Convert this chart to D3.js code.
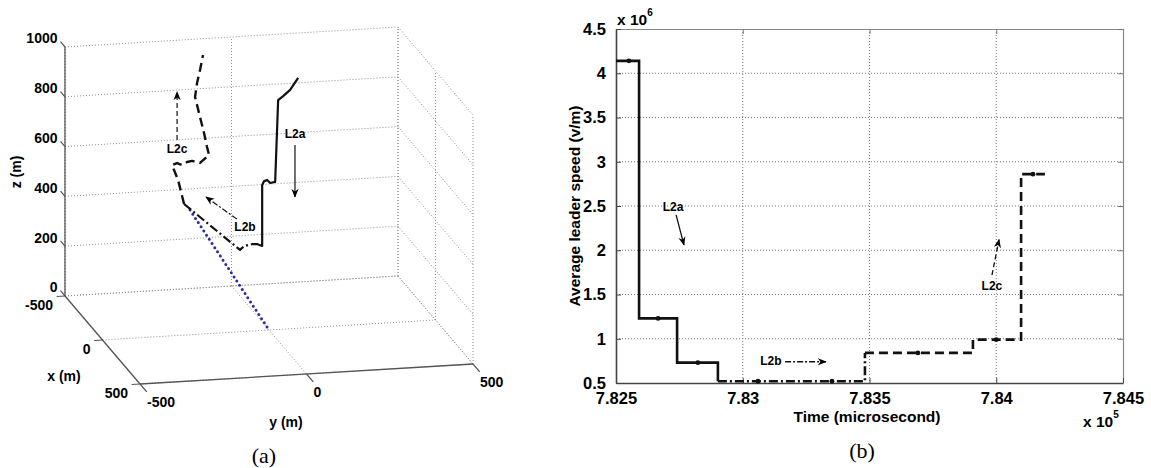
<!DOCTYPE html>
<html>
<head>
<meta charset="utf-8">
<script src="https://cdn.jsdelivr.net/npm/d3@7"></script>
<style>
  body { margin: 0; background: #fff; }
  svg { display: block; }
  text { font-family: "Liberation Sans", Arial, sans-serif; fill: #000; }
  .bold { font-weight: bold; }
  .serif { font-family: "Liberation Serif", "Times New Roman", serif; }
</style>
</head>
<body>
<div id="wrapper"></div>
<script>
// ---------- PANEL (a) DATA : 3D leader paths (m) ----------
const xLim3 = [-500, 500]
const yLim3 = [-500, 500]
const zLim3 = [0, 1000]
const xTicks3 = [-500, 0, 500]
const yTicks3 = [-500, 0, 500]
const zTicks3 = [0, 200, 400, 600, 800, 1000]

// L2a (solid)
const l2aX = [-100, -100, -100, -100, -100, -100, -100, -100, -100, -100, -100, -100]
const l2aY = [-29, -14, 2, 2, 8, 17, 26, 41, 50, 65, 86, 110]
const l2aZ = [312, 311, 302, 547, 562, 566, 553, 556, 884, 899, 922, 968]

// L2b (dash-dot)
const l2bX = [-400, -120, -110, -100]
const l2bY = [-165, -60, -50, -29]
const l2bZ = [378, 284, 302, 312]

// L2c (dashed)
const l2cX = [-400, -400, -400, -400, -400, -400, -400, -400, -400, -400, -400, -400, -400, -400, -400, -400, -400]
const l2cY = [-165, -183, -201, -186, -171, -156, -141, -126, -117, -90, -96, -105, -117, -132, -126, -117, -108]
const l2cZ = [378, 476, 537, 544, 535, 546, 549, 543, 539, 569, 601, 658, 723, 805, 861, 912, 972]

// blue dotted channel
const blueX = [-400, 0]
const blueY = [-147, 0]
const blueZ = [352, 0]

// annotations in the x = 0 plane: [y, z]
const annotNames = ["L2a", "L2b", "L2c"]
const annot3Text = [[78, 777], [-72, 415], [-276, 745]]
const annot3From = [[78, 737], [-96, 453], [-276, 785]]
const annot3To = [[78, 528], [-189, 549], [-276, 978]]

// ---------- PANEL (b) DATA : average leader speed ----------
const timeDomain = [7.825, 7.845]          // x 10^5 microsecond
const speedDomain = [0.5, 4.5]             // x 10^6
const timeTicks = [7.825, 7.83, 7.835, 7.84, 7.845]
const timeTickLabels = ["7.825", "7.83", "7.835", "7.84", "7.845"]
const speedTicks = [0.5, 1, 1.5, 2, 2.5, 3, 3.5, 4, 4.5]
const speedTickLabels = ["0.5", "1", "1.5", "2", "2.5", "3", "3.5", "4", "4.5"]

const stepTimesA = [7.825, 7.82591, 7.82741, 7.82902]
const stepSpeedsA = [4.14, 1.23, 0.73, 0.52]
const stepTimesB = [7.82902, 7.83482]
const stepSpeedsB = [0.52, 0.84]
const stepTimesC = [7.83482, 7.83908, 7.84098, 7.84192]
const stepSpeedsC = [0.84, 0.99, 2.86, 2.86]

const markerTimes = [7.82551, 7.82666, 7.82823, 7.8306, 7.83352, 7.83691, 7.84, 7.84145]
const markerSpeeds = [4.14, 1.23, 0.73, 0.52, 0.52, 0.84, 0.99, 2.86]

// annotations [time, speed]
const annot2Text = [[7.82725, 2.48], [7.83111, 0.74], [7.83983, 1.585]]
const annot2From = [[7.82737, 2.40], [7.83167, 0.74], [7.83983, 1.72]]
const annot2To = [[7.82768, 2.06], [7.83328, 0.74], [7.84011, 2.12]]

// ---------- SVG ----------
const width = 1151, height = 468
const svg = d3.select('#wrapper').append('svg')
    .attr('width', width)
    .attr('height', height)

const defs = svg.append('defs')
defs.append('marker')
    .attr('id', 'head')
    .attr('viewBox', '0 0 10 10')
    .attr('refX', 9).attr('refY', 5)
    .attr('markerWidth', 9).attr('markerHeight', 9)
    .attr('markerUnits', 'userSpaceOnUse')
    .attr('orient', 'auto')
  .append('path')
    .attr('d', 'M0,1 L10,5 L0,9 L3,5 Z')
    .attr('fill', '#000')

const styles = {
    a: { dash: null, width: 2.2 },
    b: { dash: '9,3,2,3', width: 2.2 },
    c: { dash: '9,5', width: 2.4 }
}

// ================= PANEL (a) =================
const pa = svg.append('g')

// orthographic view of the box
const dxX = d3.scaleLinear().domain(xLim3).range([-37.5, 37.5])
const dyX = d3.scaleLinear().domain(xLim3).range([-44, 44])
const dxY = d3.scaleLinear().domain(yLim3).range([-166.5, 166.5])
const dyY = d3.scaleLinear().domain(yLim3).range([10, -10])
const dyZ = d3.scaleLinear().domain(zLim3).range([0, -249])
const origin3 = [269, 330]
const project = (x, y, z) => [
    origin3[0] + dxX(x) + dxY(y),
    origin3[1] + dyX(x) + dyY(y) + dyZ(z)
]
const line3 = d3.line().x(d => project(...d)[0]).y(d => project(...d)[1])

const [x0, x1] = xLim3, [y0, y1] = yLim3, [z0, z1] = zLim3

// grid on the three back planes
const gridSegs = []
zTicks3.forEach(z => {
    gridSegs.push([[x0, y0, z], [x0, y1, z]])
    gridSegs.push([[x0, y1, z], [x1, y1, z]])
})
yTicks3.forEach(y => {
    gridSegs.push([[x0, y, z0], [x0, y, z1]])
    gridSegs.push([[x0, y, z0], [x1, y, z0]])
})
xTicks3.forEach(x => {
    gridSegs.push([[x, y1, z0], [x, y1, z1]])
    gridSegs.push([[x, y0, z0], [x, y1, z0]])
})
pa.selectAll('.grid3').data(gridSegs).join('path')
    .attr('class', 'grid3')
    .attr('d', line3)
    .attr('fill', 'none')
    .attr('stroke', '#8f8f8f')
    .attr('stroke-width', 1)
    .attr('stroke-dasharray', '1,2')

// axis lines
const axisSegs = [
    [[x0, y0, z0], [x1, y0, z0]],
    [[x1, y0, z0], [x1, y1, z0]],
    [[x0, y0, z0], [x0, y0, z1]]
]
pa.selectAll('.axis3').data(axisSegs).join('path')
    .attr('class', 'axis3')
    .attr('d', line3)
    .attr('stroke', '#555')
    .attr('stroke-width', 1.3)

// ticks and tick labels
const tickSegs = []
zTicks3.forEach(z => tickSegs.push([[x0, y0, z], [x0 - 60, y0, z]]))
xTicks3.forEach(x => tickSegs.push([[x, y0, z0], [x, y0 - 25, z0]]))
yTicks3.forEach(y => tickSegs.push([[x1, y, z0], [x1 + 90, y, z0]]))
pa.selectAll('.tick3').data(tickSegs).join('path')
    .attr('class', 'tick3')
    .attr('d', line3)
    .attr('stroke', '#555')
    .attr('stroke-width', 1.2)

const tickFont = sel => sel
    .style('font-family', '"Liberation Sans", Arial, sans-serif')
    .style('font-weight', 'bold')
    .style('font-size', '14px')

pa.selectAll('.zlab').data(zTicks3).join('text')
    .attr('class', 'zlab')
    .attr('x', d => project(x0 - 60, y0, d)[0] - 3)
    .attr('y', d => project(x0 - 60, y0, d)[1] - 2)
    .attr('text-anchor', 'end')
    .attr('dominant-baseline', 'middle')
    .call(tickFont)
    .text(d => d)

pa.selectAll('.xlab').data(xTicks3).join('text')
    .attr('class', 'xlab')
    .attr('x', d => project(d, y0, z0)[0] - 12)
    .attr('y', d => project(d, y0, z0)[1] + 10)
    .attr('text-anchor', 'end')
    .attr('dominant-baseline', 'middle')
    .call(tickFont)
    .text(d => d)

pa.selectAll('.ylab').data(yTicks3).join('text')
    .attr('class', 'ylab')
    .attr('x', d => project(x1, d, z0)[0] + 7)
    .attr('y', d => project(x1, d, z0)[1] + 19)
    .attr('text-anchor', 'start')
    .attr('dominant-baseline', 'middle')
    .call(tickFont)
    .text(d => d)

pa.append('text')
    .attr('transform', 'translate(17,172) rotate(-90)')
    .attr('text-anchor', 'middle').attr('dominant-baseline', 'middle')
    .call(tickFont).text('z (m)')
pa.append('text')
    .attr('x', 64).attr('y', 377)
    .attr('text-anchor', 'middle').attr('dominant-baseline', 'middle')
    .call(tickFont).text('x (m)')
pa.append('text')
    .attr('x', 286).attr('y', 423)
    .attr('text-anchor', 'middle').attr('dominant-baseline', 'middle')
    .call(tickFont).text('y (m)')

// leader paths
const zip3 = (xs, ys, zs) => xs.map((x, i) => [x, ys[i], zs[i]])

pa.append('path')
    .attr('d', line3(zip3(blueX, blueY, blueZ)))
    .attr('fill', 'none')
    .attr('stroke', '#2b2ba8')
    .attr('stroke-width', 3)
    .attr('stroke-linecap', 'round')
    .attr('stroke-dasharray', '0,5')

const paths3 = [
    { pts: zip3(l2aX, l2aY, l2aZ), s: styles.a },
    { pts: zip3(l2bX, l2bY, l2bZ), s: styles.b },
    { pts: zip3(l2cX, l2cY, l2cZ), s: styles.c }
]
paths3.forEach(p => {
    pa.append('path')
        .attr('d', line3(p.pts))
        .attr('fill', 'none')
        .attr('stroke', '#111')
        .attr('stroke-width', p.s.width)
        .attr('stroke-dasharray', p.s.dash)
        .attr('stroke-linejoin', 'round')
})

// annotations (a)
const annotDash = [null, '6,2,2,2', '5,3']
const annotFont = sel => sel
    .style('font-family', '"Liberation Sans", Arial, sans-serif')
    .style('font-weight', 'bold')
    .style('font-size', '12px')
annotNames.forEach((name, i) => {
    const t = project(0, ...annot3Text[i])
    pa.append('text')
        .attr('x', t[0]).attr('y', t[1])
        .attr('text-anchor', 'middle').attr('dominant-baseline', 'middle')
        .call(annotFont)
        .text(name)
    pa.append('path')
        .attr('d', line3([[0, ...annot3From[i]], [0, ...annot3To[i]]]))
        .attr('stroke', '#111')
        .attr('stroke-width', 1.2)
        .attr('stroke-dasharray', annotDash[i])
        .attr('marker-end', 'url(#head)')
})

pa.append('text').attr('class', 'serif')
    .attr('x', 264).attr('y', 458)
    .attr('text-anchor', 'middle').attr('dominant-baseline', 'middle')
    .attr('font-size', 22).text('(a)')

// ================= PANEL (b) =================
const pb = svg.append('g')
const xScale = d3.scaleLinear().domain(timeDomain).range([616, 1123])
const yScale = d3.scaleLinear().domain(speedDomain).range([383, 29])
const [bx0, bx1] = xScale.range()
const [by0, by1] = yScale.range()

// grid
pb.selectAll('.vgrid').data(timeTicks.slice(1, -1)).join('line')
    .attr('x1', d => xScale(d)).attr('x2', d => xScale(d))
    .attr('y1', by1).attr('y2', by0)
    .attr('stroke', '#7a7a7a').attr('stroke-dasharray', '1,2')
pb.selectAll('.hgrid').data(speedTicks.slice(1, -1)).join('line')
    .attr('y1', d => yScale(d)).attr('y2', d => yScale(d))
    .attr('x1', bx0).attr('x2', bx1)
    .attr('stroke', '#7a7a7a').attr('stroke-dasharray', '1,2')

// axes (ticks inward)
const xAxisB = d3.axisBottom(xScale).tickValues(timeTicks)
    .tickFormat((d, i) => timeTickLabels[i]).tickSizeInner(-5).tickSizeOuter(0).tickPadding(9)
const yAxisL = d3.axisLeft(yScale).tickValues(speedTicks)
    .tickFormat((d, i) => speedTickLabels[i]).tickSizeInner(-5).tickSizeOuter(0).tickPadding(10)
const xAxisT = d3.axisTop(xScale).tickValues(timeTicks).tickFormat('').tickSizeInner(-5).tickSizeOuter(0)
const yAxisR = d3.axisRight(yScale).tickValues(speedTicks).tickFormat('').tickSizeInner(-5).tickSizeOuter(0)

const gxT = pb.append('g').attr('transform', `translate(0,${by1})`).call(xAxisT)
const gyR = pb.append('g').attr('transform', `translate(${bx1},0)`).call(yAxisR)
const gxB = pb.append('g').attr('transform', `translate(0,${by0})`).call(xAxisB)
const gyL = pb.append('g').attr('transform', `translate(${bx0},0)`).call(yAxisL)

;[gxT, gyR].forEach(g => {
    g.select('.domain').attr('stroke', '#888').attr('stroke-width', 1.2)
    g.selectAll('.tick line').attr('stroke', '#777')
})
;[gxB, gyL].forEach(g => {
    g.select('.domain').attr('stroke', '#444').attr('stroke-width', 1.6)
    g.selectAll('.tick line').attr('stroke', '#444')
    g.selectAll('.tick text')
        .style('font-family', '"Liberation Sans", Arial, sans-serif')
        .style('font-weight', 'bold')
        .style('font-size', '16.5px')
        .style('fill', '#000')
})

// step series
const stepLine = d3.line()
    .x(d => xScale(d[0])).y(d => yScale(d[1]))
    .curve(d3.curveStepAfter)
const zip2 = (ts, vs) => ts.map((t, i) => [t, vs[i]])
const series = [
    { pts: zip2(stepTimesA, stepSpeedsA), s: styles.a },
    { pts: zip2(stepTimesB, stepSpeedsB), s: styles.b },
    { pts: zip2(stepTimesC, stepSpeedsC), s: styles.c }
]
series.forEach(p => {
    pb.append('path')
        .attr('d', stepLine(p.pts))
        .attr('fill', 'none')
        .attr('stroke', '#111')
        .attr('stroke-width', 2.6)
        .attr('stroke-dasharray', p.s.dash)
})

pb.selectAll('.dot').data(zip2(markerTimes, markerSpeeds)).join('circle')
    .attr('cx', d => xScale(d[0])).attr('cy', d => yScale(d[1]))
    .attr('r', 2.4).attr('fill', '#111')

// annotations (b)
const line2 = d3.line().x(d => xScale(d[0])).y(d => yScale(d[1]))
annotNames.forEach((name, i) => {
    pb.append('text')
        .attr('x', xScale(annot2Text[i][0])).attr('y', yScale(annot2Text[i][1]))
        .attr('text-anchor', 'middle').attr('dominant-baseline', 'middle')
        .call(annotFont)
        .text(name)
    pb.append('path')
        .attr('d', line2([annot2From[i], annot2To[i]]))
        .attr('stroke', '#111')
        .attr('stroke-width', 1.3)
        .attr('stroke-dasharray', annotDash[i])
        .attr('marker-end', 'url(#head)')
})

// labels
const labelFont = sel => sel
    .style('font-family', '"Liberation Sans", Arial, sans-serif')
    .style('font-weight', 'bold')
    .style('font-size', '15.5px')
pb.append('text')
    .attr('transform', `translate(576,${(by0 + by1) / 2}) rotate(-90)`)
    .attr('text-anchor', 'middle').attr('dominant-baseline', 'middle')
    .call(labelFont).text('Average leader speed (v/m)')
pb.append('text')
    .attr('x', 867).attr('y', 418)
    .attr('text-anchor', 'middle').attr('dominant-baseline', 'middle')
    .call(labelFont).text('Time (microsecond)')

const exp6 = pb.append('text')
    .attr('x', 617).attr('y', 25).call(labelFont)
exp6.append('tspan').text('x 10')
exp6.append('tspan').attr('dy', -9).style('font-size', '10px').text('6')

const exp5 = pb.append('text')
    .attr('x', 1083).attr('y', 427).call(labelFont)
exp5.append('tspan').text('x 10')
exp5.append('tspan').attr('dy', -9).style('font-size', '10px').text('5')

pb.append('text').attr('class', 'serif')
    .attr('x', 862).attr('y', 453)
    .attr('text-anchor', 'middle').attr('dominant-baseline', 'middle')
    .attr('font-size', 22).text('(b)')
</script>
</body>
</html>
